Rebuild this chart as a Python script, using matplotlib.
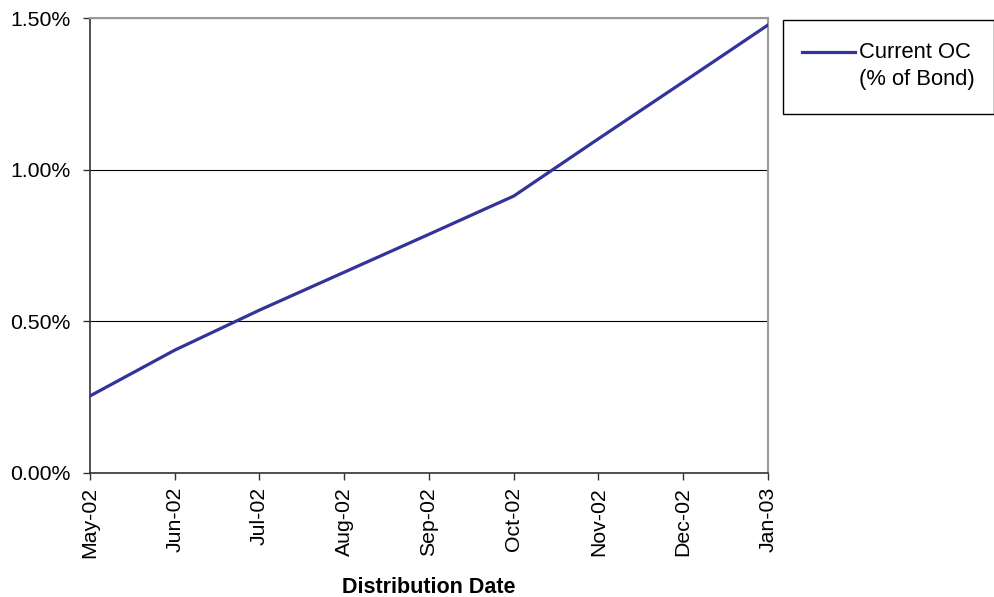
import matplotlib
matplotlib.use("Agg")
import matplotlib.pyplot as plt
from matplotlib.ticker import FuncFormatter
from matplotlib.patches import Rectangle
from matplotlib.lines import Line2D

dates = ["May-02", "Jun-02", "Jul-02", "Aug-02", "Sep-02", "Oct-02", "Nov-02", "Dec-02", "Jan-03"]
current_oc = [0.254, 0.405, 0.537, 0.662, 0.787, 0.913, 1.102, 1.289, 1.477]
yticks = [0.0, 0.5, 1.0, 1.5]
series_label = "Current OC\n(% of Bond)"

plt.rcParams['font.family'] = ['Liberation Sans', 'DejaVu Sans']

fig = plt.figure(figsize=(9.95, 5.97), dpi=100)
ax = fig.add_axes([90/995, 1 - 473/597, (768-90)/995, (473-18)/597])

x = list(range(len(dates)))
ax.plot(x, current_oc, color="#333399", linewidth=2.3, zorder=3)

ax.set_xlim(0, len(dates) - 1)
ax.set_ylim(0, 1.5)
ax.set_yticks(yticks)
ax.yaxis.set_major_formatter(FuncFormatter(lambda v, p: f"{v:.2f}%"))
ax.set_xticks(x)
ax.set_xticklabels(dates, rotation=90)
ax.grid(axis='y', color='black', linewidth=0.8, zorder=1)

ax.tick_params(axis='y', direction='out', length=5, width=1, pad=9, labelsize=15.3, color='#333333')
ax.tick_params(axis='x', direction='out', length=5, width=1, pad=5, labelsize=15.3, color='#333333')

for s in ['left', 'bottom']:
    ax.spines[s].set_color('#333333')
    ax.spines[s].set_linewidth(1.2)
for s in ['top', 'right']:
    ax.spines[s].set_color('#999999')
    ax.spines[s].set_linewidth(1.5)

ax.set_xlabel("Distribution Date", fontsize=15.5, fontweight='bold', labelpad=14)

# legend box
lx0, ly0, lx1, ly1 = 783/995, 1 - 114/597, 994/995, 1 - 20/597
fig.patches.append(Rectangle((lx0, ly0), lx1 - lx0, ly1 - ly0, transform=fig.transFigure,
                             facecolor='white', edgecolor='black', linewidth=1))
fig.lines.append(Line2D([802/995, 855/995], [1 - 52/597, 1 - 52/597], transform=fig.transFigure,
                        color="#333399", linewidth=2.3))
fig.text(859/995, 1 - 42/597, series_label, fontsize=15.8, va='top', ha='left',
         linespacing=1.35, transform=fig.transFigure)

fig.savefig("out.png", dpi=100)
